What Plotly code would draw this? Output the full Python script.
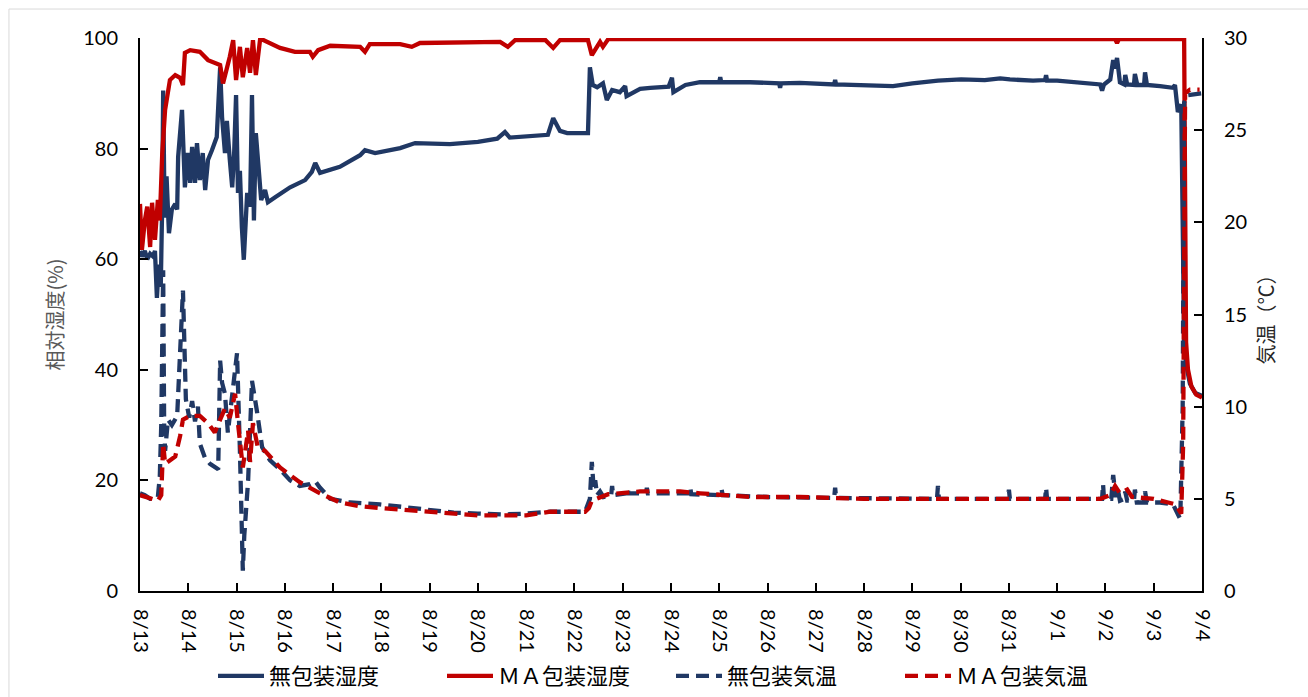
import pandas as pd
import plotly.graph_objects as go

START = pd.Timestamp("2021-08-13")

# (days since 8/13 00:00, relative humidity %) — unpackaged
hum_nopack = [
    (0.00, 61.5), (0.04, 60.5), (0.10, 61.5), (0.15, 60.0), (0.21, 61.0), (0.27, 60.5),
    (0.31, 61.5), (0.35, 53.0), (0.39, 59.0), (0.43, 55.0), (0.46, 70.0), (0.48, 90.5),
    (0.51, 67.5), (0.55, 75.0), (0.60, 64.7), (0.66, 69.0), (0.73, 70.0), (0.77, 69.0),
    (0.79, 78.5), (0.87, 87.0), (0.93, 73.0), (0.99, 79.2), (1.04, 73.8), (1.08, 80.3),
    (1.14, 73.8), (1.18, 81.0), (1.24, 74.3), (1.30, 79.2), (1.35, 72.5), (1.41, 78.0),
    (1.49, 79.7), (1.59, 82.1), (1.66, 94.7), (1.70, 85.7), (1.76, 79.2), (1.80, 85.0),
    (1.86, 78.0), (1.91, 73.0), (1.95, 79.0), (1.99, 89.7), (2.03, 72.0), (2.07, 76.0),
    (2.11, 65.8), (2.15, 59.9), (2.22, 72.0), (2.28, 69.5), (2.32, 89.7), (2.36, 67.0),
    (2.40, 82.8), (2.44, 78.0), (2.51, 70.7), (2.59, 72.5), (2.65, 70.3), (2.80, 71.2),
    (3.11, 73.0), (3.42, 74.3), (3.56, 75.8), (3.63, 77.4), (3.73, 75.6), (4.14, 76.7),
    (4.56, 78.8), (4.66, 79.7), (4.87, 79.2), (5.39, 80.1), (5.70, 81.0), (6.42, 80.8),
    (7.00, 81.2), (7.40, 81.8), (7.56, 83.0), (7.66, 82.0), (8.00, 82.2), (8.45, 82.5),
    (8.56, 85.5), (8.70, 83.2), (8.85, 82.8), (9.28, 82.8), (9.32, 94.7), (9.38, 91.5),
    (9.47, 91.1), (9.59, 91.8), (9.67, 88.8), (9.78, 90.6), (9.94, 90.2), (10.05, 91.3),
    (10.08, 89.5), (10.36, 90.8), (10.57, 91.0), (10.95, 91.2), (11.02, 92.8), (11.05, 90.2),
    (11.30, 91.5), (11.60, 92.0), (12.00, 92.0), (12.02, 92.9), (12.04, 92.0), (12.64, 92.0),
    (13.24, 91.8), (13.26, 91.0), (13.28, 91.8), (13.67, 91.9), (14.38, 91.6), (14.40, 92.4),
    (14.42, 91.6), (15.00, 91.5), (15.60, 91.3), (16.00, 91.8), (16.53, 92.3), (17.01, 92.5),
    (17.50, 92.4), (17.82, 92.7), (18.02, 92.5), (18.50, 92.3), (18.75, 92.4), (18.77, 93.3),
    (18.79, 92.3), (19.00, 92.3), (19.47, 92.0), (19.89, 91.6), (19.93, 90.5), (19.97, 91.6),
    (20.10, 92.5), (20.16, 96.0), (20.20, 94.5), (20.24, 96.4), (20.30, 92.0), (20.39, 91.6),
    (20.41, 93.3), (20.45, 91.6), (20.59, 91.5), (20.61, 93.5), (20.66, 91.5), (20.80, 91.5),
    (20.82, 93.8), (20.86, 91.5), (21.13, 91.3), (21.40, 91.0), (21.44, 91.5), (21.50, 86.6),
    (21.57, 88.0), (21.63, 45.0), (21.67, 41.0), (21.75, 37.5), (21.86, 35.8), (22.00, 35.3),
]

# (days since 8/13 00:00, relative humidity %) — MA packaging
hum_ma = [
    (0.00, 70.0), (0.04, 61.7), (0.10, 67.0), (0.15, 69.5), (0.21, 62.2), (0.25, 70.2),
    (0.31, 63.5), (0.37, 70.7), (0.41, 67.0), (0.46, 79.0), (0.52, 87.0), (0.62, 92.4),
    (0.73, 93.3), (0.83, 92.8), (0.89, 91.5), (0.93, 97.3), (1.04, 97.8), (1.24, 97.5),
    (1.41, 96.0), (1.55, 95.4), (1.66, 95.1), (1.72, 91.8), (1.80, 94.2), (1.86, 96.6),
    (1.93, 99.6), (1.99, 92.4), (2.07, 98.4), (2.13, 92.9), (2.22, 98.2), (2.28, 93.7),
    (2.34, 99.6), (2.40, 93.3), (2.49, 99.9), (2.69, 99.1), (2.90, 98.2), (3.21, 97.5),
    (3.52, 97.5), (3.58, 96.6), (3.69, 97.8), (3.94, 98.6), (4.56, 98.4), (4.66, 97.5),
    (4.76, 98.9), (5.39, 98.9), (5.63, 98.4), (5.80, 99.1), (6.50, 99.2), (7.46, 99.3),
    (7.62, 98.4), (7.77, 99.6), (8.40, 99.6), (8.56, 98.2), (8.70, 99.6), (9.28, 99.6),
    (9.36, 96.9), (9.53, 99.3), (9.59, 98.4), (9.70, 99.8), (20.20, 99.8), (20.24, 99.1),
    (20.28, 99.8), (21.63, 99.8), (21.67, 45.0), (21.71, 40.0), (21.78, 37.0), (21.88, 35.5),
    (22.00, 35.0),
]

# (days since 8/13 00:00, air temperature °C) — unpackaged
temp_nopack = [
    (0.00, 5.3), (0.10, 5.2), (0.21, 5.0), (0.31, 5.0), (0.37, 5.1), (0.41, 6.2),
    (0.44, 9.0), (0.48, 17.4), (0.50, 9.1), (0.52, 7.6), (0.58, 9.3), (0.66, 9.0),
    (0.77, 9.5), (0.83, 12.5), (0.89, 16.3), (0.95, 10.4), (1.02, 9.4), (1.08, 10.3),
    (1.14, 9.2), (1.20, 10.0), (1.24, 8.0), (1.35, 7.2), (1.45, 6.9), (1.62, 6.6),
    (1.66, 12.5), (1.70, 11.3), (1.76, 10.7), (1.82, 8.6), (1.93, 11.3), (2.01, 12.9),
    (2.07, 7.6), (2.13, 1.1), (2.16, 3.0), (2.24, 6.0), (2.32, 11.4), (2.38, 10.5),
    (2.42, 9.8), (2.53, 7.8), (2.69, 7.1), (2.90, 6.6), (3.11, 6.0), (3.31, 5.7),
    (3.52, 5.8), (3.63, 5.95), (3.73, 5.6), (3.94, 5.0), (4.35, 4.8), (4.97, 4.7),
    (5.59, 4.5), (6.01, 4.4), (6.50, 4.25), (7.00, 4.2), (7.50, 4.15), (8.00, 4.2),
    (8.50, 4.3), (9.22, 4.3), (9.32, 5.0), (9.36, 7.0), (9.40, 5.5), (9.43, 6.0),
    (9.47, 5.2), (9.53, 5.4), (9.60, 5.1), (9.76, 5.2), (9.78, 5.7), (9.80, 5.2),
    (10.08, 5.3), (10.10, 5.6), (10.12, 5.3), (10.48, 5.3), (10.50, 5.6), (10.52, 5.3),
    (11.38, 5.3), (11.40, 5.6), (11.42, 5.25), (12.03, 5.2), (12.05, 5.5), (12.07, 5.2),
    (13.00, 5.1), (14.38, 5.05), (14.40, 5.6), (14.42, 5.05), (16.51, 5.0), (16.53, 5.7),
    (16.55, 5.0), (17.98, 5.0), (18.00, 5.5), (18.02, 5.0), (18.75, 5.0), (18.77, 5.6),
    (18.79, 5.0), (19.93, 5.0), (19.95, 5.8), (19.97, 5.0), (20.12, 5.0), (20.16, 6.3),
    (20.21, 5.1), (20.25, 5.6), (20.30, 4.9), (20.39, 5.0), (20.41, 5.4), (20.45, 4.9),
    (20.59, 4.9), (20.61, 5.5), (20.65, 4.8), (20.80, 4.8), (20.82, 5.4), (20.86, 4.8),
    (21.13, 4.8), (21.40, 4.7), (21.55, 3.9), (21.60, 10.0), (21.63, 26.5), (21.70, 26.9),
    (22.00, 27.0),
]

# (days since 8/13 00:00, air temperature °C) — MA packaging
temp_ma = [
    (0.00, 5.2), (0.21, 5.0), (0.37, 4.9), (0.44, 5.2), (0.46, 6.5), (0.48, 8.0),
    (0.52, 6.9), (0.73, 7.3), (0.83, 8.4), (0.89, 9.3), (1.04, 9.5), (1.24, 9.5),
    (1.41, 9.1), (1.55, 8.6), (1.66, 9.3), (1.76, 9.9), (1.86, 9.4), (1.97, 10.7),
    (2.03, 9.1), (2.13, 6.7), (2.24, 8.7), (2.28, 7.0), (2.34, 9.1), (2.44, 7.8),
    (2.59, 7.6), (2.90, 6.7), (3.31, 5.9), (3.73, 5.3), (4.14, 4.8), (4.56, 4.6),
    (4.97, 4.5), (6.01, 4.3), (7.00, 4.1), (8.00, 4.1), (8.50, 4.3), (9.22, 4.3),
    (9.30, 4.5), (9.36, 4.9), (9.53, 5.1), (9.70, 5.25), (10.36, 5.4), (11.19, 5.4),
    (11.60, 5.3), (12.64, 5.1), (13.67, 5.1), (15.00, 5.0), (17.00, 5.0), (19.00, 5.0),
    (19.90, 5.0), (20.10, 5.2), (20.20, 5.7), (20.30, 5.3), (20.45, 5.5), (20.55, 5.1),
    (21.00, 5.0), (21.30, 4.8), (21.45, 4.7), (21.57, 4.2), (21.61, 8.0), (21.65, 27.0),
    (21.75, 27.2), (21.95, 27.2),
]

day_labels = ["8/13", "8/14", "8/15", "8/16", "8/17", "8/18", "8/19", "8/20", "8/21",
              "8/22", "8/23", "8/24", "8/25", "8/26", "8/27", "8/28", "8/29", "8/30",
              "8/31", "9/1", "9/2", "9/3", "9/4"]

NAVY = "#203864"
RED = "#C00000"


def to_xy(pairs):
    days, vals = zip(*pairs)
    times = START + pd.to_timedelta(list(days), unit="D")
    return times, list(vals)


fig = go.Figure()
series = [
    ("無包装湿度", hum_nopack, NAVY, "solid", "y"),
    ("ＭＡ包装湿度", hum_ma, RED, "solid", "y"),
    ("無包装気温", temp_nopack, NAVY, "13px,7px", "y2"),
    ("ＭＡ包装気温", temp_ma, RED, "13px,7px", "y2"),
]
for name, pairs, color, dash, yax in series:
    x, y = to_xy(pairs)
    fig.add_trace(go.Scatter(
        x=x, y=y, name=name, mode="lines", yaxis=yax,
        line=dict(color=color, width=4.3, dash=dash),
    ))

tick_times = [START + pd.Timedelta(days=i) for i in range(len(day_labels))]
TICKFONT = dict(family="Lato, 'Noto Sans', sans-serif", size=20, color="#000000")
CJK = "'Noto Sans CJK JP', 'Noto Sans', sans-serif"

axis_common = dict(
    showline=True, linecolor="#000000", linewidth=2, mirror=False,
    ticks="inside", ticklen=8, tickwidth=2, tickcolor="#000000",
    showgrid=False, zeroline=False, tickfont=TICKFONT, automargin=False,
)

fig.update_layout(
    width=1308, height=697, autosize=False,
    margin=dict(l=140, r=106, t=38, b=106),
    paper_bgcolor="#FFFFFF", plot_bgcolor="#FFFFFF",
    showlegend=True,
    legend=dict(
        orientation="h", xref="paper", x=0.5, xanchor="center",
        yref="container", y=0.03, yanchor="middle",
        bgcolor="rgba(0,0,0,0)",
        font=dict(family=CJK, size=22, color="#000000"),
        entrywidth=168, entrywidthmode="pixels", itemwidth=46,
        traceorder="normal",
    ),
    xaxis=dict(
        type="date",
        range=[tick_times[0], tick_times[-1]],
        tickvals=tick_times, ticktext=day_labels, tickangle=90,
        ticklabelstandoff=12,
        **axis_common,
    ),
    yaxis=dict(
        range=[0, 100], dtick=20, tick0=0,
        ticklabelstandoff=16,
        title=dict(text="相対湿度(%)", font=dict(family=CJK, size=20, color="#595959"), standoff=14),
        **axis_common,
    ),
    yaxis2=dict(
        range=[0, 30], dtick=5, tick0=0, overlaying="y", side="right",
        ticklabelstandoff=16,
        title=dict(text="気温（℃）", font=dict(family=CJK, size=20, color="#262626"), standoff=14),
        **axis_common,
    ),
    shapes=[dict(
        type="rect", xref="paper", yref="paper",
        x0=-0.1234, y0=-0.22, x1=1.12, y1=1.0524,
        line=dict(color="#D9D9D9", width=1), fillcolor="rgba(0,0,0,0)", layer="below",
    )],
)

fig.write_html("out.html")
